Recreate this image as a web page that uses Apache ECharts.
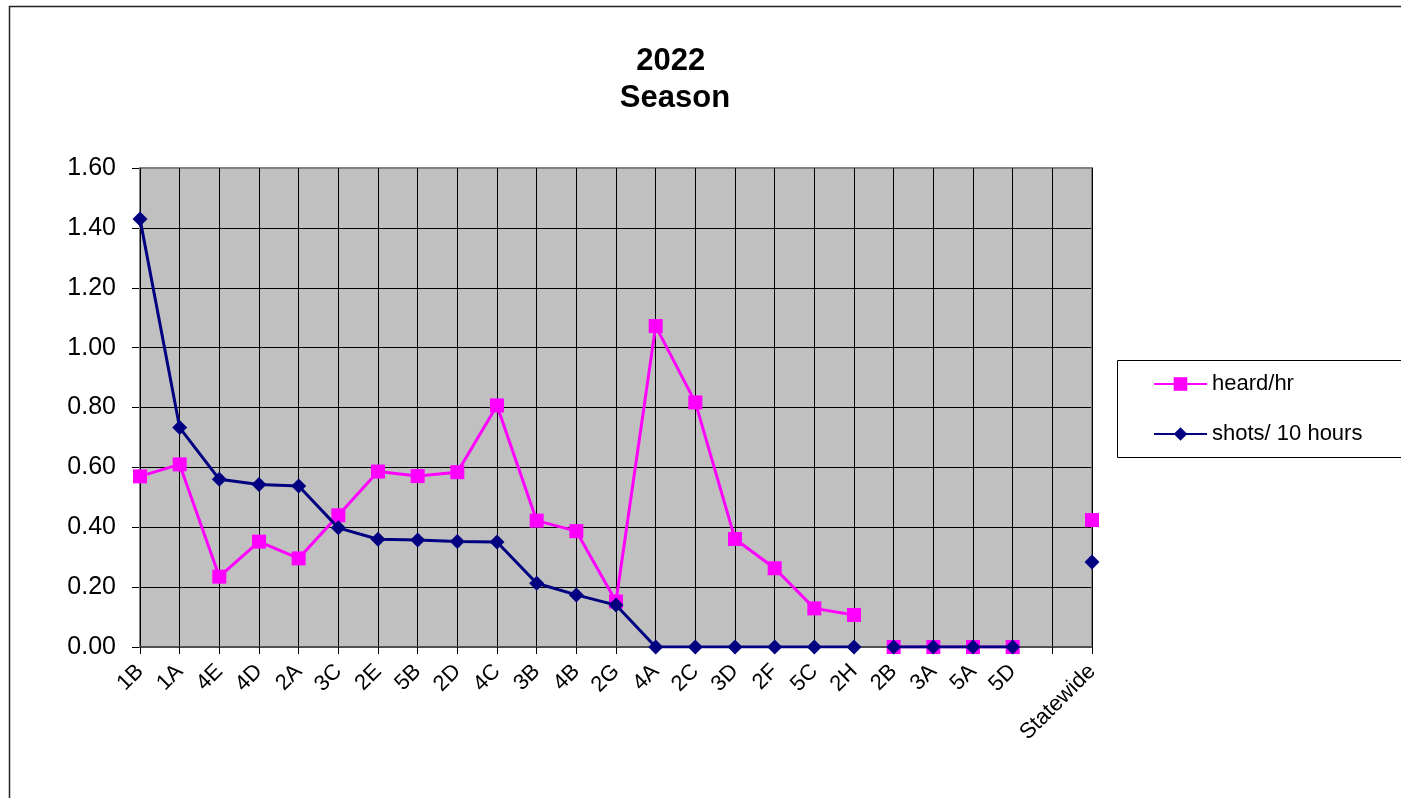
<!DOCTYPE html>
<html>
<head>
<meta charset="utf-8">
<script src="https://cdn.jsdelivr.net/npm/echarts@6/dist/echarts.min.js"></script>
<style>
html,body{margin:0;padding:0;background:#fff;}
#chart{width:1401px;height:798px;}
</style>
</head>
<body>
<div id="chart"></div>
<script>
const categories = ['1B','1A','4E','4D','2A','3C','2E','5B','2D','4C','3B','4B','2G','4A','2C','3D','2F','5C','2H','2B','3A','5A','5D','','Statewide'];
const heardPerHr = [0.57,0.61,0.235,0.352,0.296,0.44,0.586,0.571,0.584,0.807,0.422,0.387,0.152,1.072,0.817,0.361,0.263,0.129,0.107,0,0,0,0,null,0.424];
const shotsPer10Hours = [1.43,0.733,0.56,0.543,0.538,0.398,0.36,0.357,0.352,0.351,0.213,0.174,0.14,0,0,0,0,0,0,0,0,0,0,null,0.284];
const segments = [[0,18],[19,22],[24,24]];
const seriesNames = ['heard/hr','shots/ 10 hours'];

const FONT = "'Liberation Sans', Arial, sans-serif";

function segData(values, a, b) {
  return values.map((v, i) => (i >= a && i <= b ? v : null));
}

const series = [];
segments.forEach(([a, b]) => {
  series.push({
    name: seriesNames[0], type: 'line', data: segData(heardPerHr, a, b),
    symbol: 'rect', symbolSize: 14, connectNulls: false,
    itemStyle: { color: '#FF00FF' }, lineStyle: { color: '#FF00FF', width: 3 },
    z: 2, animation: false, silent: true
  });
});
segments.forEach(([a, b]) => {
  series.push({
    name: seriesNames[1], type: 'line', data: segData(shotsPer10Hours, a, b),
    symbol: 'diamond', symbolSize: 15, connectNulls: false,
    itemStyle: { color: '#000080' }, lineStyle: { color: '#000080', width: 3 },
    z: 3, animation: false, silent: true
  });
});

const chart = echarts.init(document.getElementById('chart'));
chart.setOption({
  animation: false,
  backgroundColor: '#ffffff',
  title: {
    text: '2022 \nSeason', left: 675, top: 43, textAlign: 'center', padding: 0,
    textStyle: { fontFamily: FONT, fontSize: 31, fontWeight: 'bold', color: '#000', lineHeight: 37 }
  },
  legend: {
    data: seriesNames, orient: 'vertical', left: 1153, top: 373, padding: 0,
    itemWidth: 53, itemHeight: 17, itemGap: 28, selectedMode: false,
    textStyle: { fontFamily: FONT, fontSize: 22, color: '#000', lineHeight: 22 }
  },
  graphic: [
    { type: 'rect', shape: { x: 9.5, y: 6.5, width: 1500, height: 900 }, style: { fill: 'none', stroke: '#222', lineWidth: 1.5 }, z: 0, silent: true },
    { type: 'rect', shape: { x: 1117.5, y: 360.5, width: 400, height: 97 }, style: { fill: '#fff', stroke: '#000', lineWidth: 1 }, z: 0, silent: true },
    { type: 'rect', shape: { x: 140, y: 168, width: 952, height: 479 }, style: { fill: 'none', stroke: '#808080', lineWidth: 2 }, z: 1, silent: true }
  ],
  grid: {
    left: 140, top: 168, right: 309, bottom: 151,
    show: true, backgroundColor: '#C0C0C0', borderColor: '#808080', borderWidth: 2
  },
  xAxis: {
    type: 'category', data: categories, boundaryGap: false, z: 1,
    axisLine: { show: true, lineStyle: { color: '#505050', width: 2 } },
    axisTick: { show: true, length: 7, interval: 0, lineStyle: { color: '#000', width: 1 } },
    splitLine: { show: true, interval: 0, lineStyle: { color: '#000', width: 1 } },
    axisLabel: { interval: 0, rotate: 45, margin: 21, fontFamily: FONT, fontSize: 22, color: '#000' }
  },
  yAxis: {
    type: 'value', min: 0, max: 1.6, interval: 0.2,
    axisLine: { show: true, lineStyle: { color: '#808080', width: 2 } },
    axisTick: { show: true, length: 8, lineStyle: { color: '#000', width: 1 } },
    splitLine: { show: true, lineStyle: { color: '#000', width: 1 } },
    axisLabel: { margin: 24, fontFamily: FONT, fontSize: 25, color: '#000', formatter: v => v.toFixed(2) }
  },
  series: series
});
</script>
</body>
</html>
